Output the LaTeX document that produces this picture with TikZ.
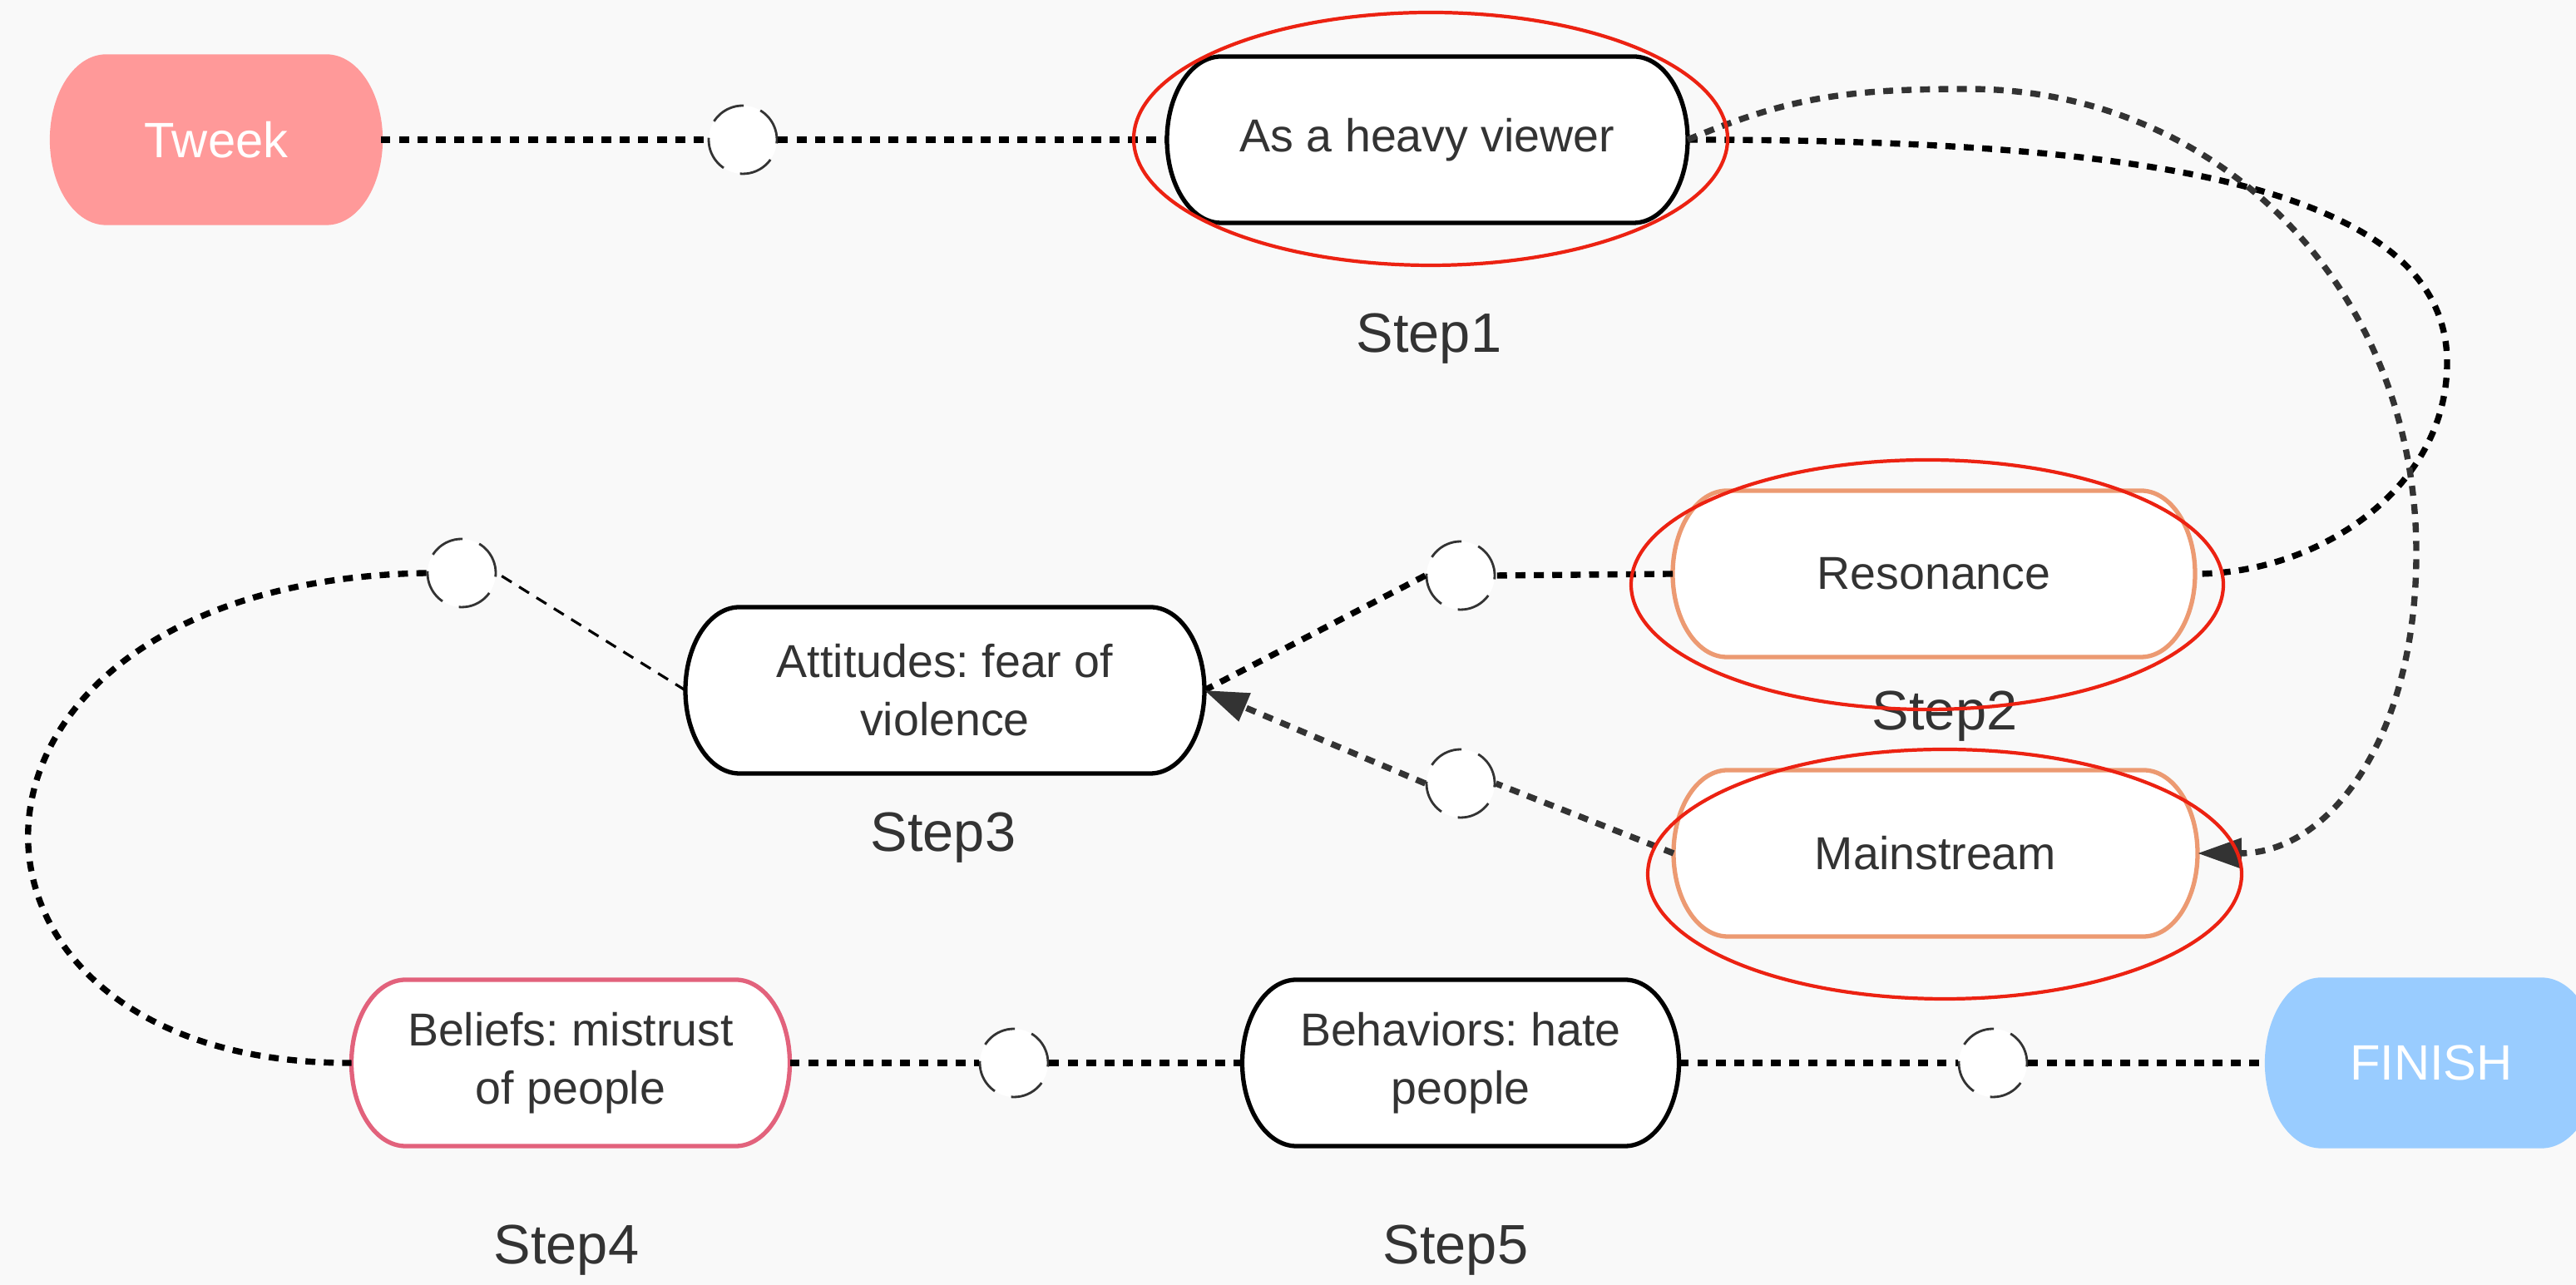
\documentclass[tikz,border=0pt]{standalone}
\usepackage{fontspec}
\setmainfont{Liberation Sans}
\usepackage{tikz}
\usetikzlibrary{positioning,arrows.meta}
\frenchspacing

\definecolor{bgcol}{HTML}{F9F9F9}
\definecolor{txtcol}{HTML}{333333}
\definecolor{tweekcol}{HTML}{FF9999}
\definecolor{finishcol}{HTML}{99CCFF}
\definecolor{orangecol}{HTML}{EC9A72}
\definecolor{pinkcol}{HTML}{E2627C}
\definecolor{markred}{RGB}{236,34,18}

\pgfdeclarelayer{bg}
\pgfsetlayers{bg,main}

\begin{document}
\begin{tikzpicture}[
  stage/.style={rectangle, outer sep=0pt, inner sep=2pt, text=txtcol, align=center,
    minimum height=2cm, font=\fontsize{15.8}{20}\selectfont},
  endpoint/.style={stage, text=white, font=\fontsize{17}{20}\selectfont},
  junction/.style={circle, minimum size=0.82cm, inner sep=0pt, fill=white, draw=txtcol,
    line width=0.8pt, dash pattern=on 12pt off 6pt},
  steplabel/.style={text=txtcol, font=\fontsize{19}{22}\selectfont},
  link/.style={line width=2.1pt, dash pattern=on 3.4pt off 2.9pt},
  faintlink/.style={line width=0.9pt, dash pattern=on 4pt off 3pt},
  hilite/.style={draw=markred, line width=1.2pt}
]
\useasboundingbox (0,0) rectangle (30.97,15.45);

% top row
\node[endpoint, minimum width=3.95cm] (tweek) at (2.60,13.77) {Tweek};
\node[junction] (j1) at (8.93,13.77) {};
\node[stage, minimum width=6.26cm] (viewer) at (17.16,13.77) {As a heavy viewer};
\node[steplabel] (s1) at (17.18,11.38) {Step1};

% middle
\node[stage, minimum width=6.28cm] (resonance) at (23.25,8.55) {Resonance};
\node[stage, minimum width=6.30cm] (mainstream) at (23.27,5.19) {Mainstream};
\node[steplabel] (s2) at (23.38,6.84) {Step2};
\node[junction] (j2) at (17.56,8.53) {};
\node[junction] (j3) at (17.56,6.03) {};
\node[stage, minimum width=6.24cm] (attitudes) at (11.36,7.15) {Attitudes: fear of\\violence};
\node[steplabel] (s3) at (11.34,5.38) {Step3};
\node[junction] (j4) at (5.55,8.56) {};

% bottom row
\node[stage, minimum width=5.27cm] (beliefs) at (6.86,2.67) {Beliefs: mistrust\\of people};
\node[junction] (j5) at (12.19,2.67) {};
\node[stage, minimum width=5.25cm] (behaviors) at (17.56,2.67) {Behaviors: hate\\people};
\node[junction] (j6) at (23.96,2.67) {};
\node[endpoint, minimum width=3.95cm] (finish) at (29.23,2.67) {FINISH};
\node[steplabel] (s4) at (6.81,0.42) {Step4};
\node[steplabel] (s5) at (17.50,0.42) {Step5};

% box outlines behind the texts
\begin{pgfonlayer}{bg}
\fill[bgcol] (0,0) rectangle (30.97,15.45);
\foreach \n/\c/\f in {tweek/tweekcol/tweekcol, viewer/black/white, resonance/orangecol/white,
    mainstream/orangecol/white, attitudes/black/white, beliefs/pinkcol/white,
    behaviors/black/white, finish/finishcol/finishcol}
  \filldraw[fill=\f, draw=\c, line width=1.5pt] ([xshift=0.65cm]\n.north west) -- ([xshift=-0.65cm]\n.north east)
    arc[start angle=90, end angle=-90, x radius=0.65cm, y radius=1cm]
    -- ([xshift=0.65cm]\n.south west)
    arc[start angle=270, end angle=90, x radius=0.65cm, y radius=1cm] -- cycle;
\end{pgfonlayer}

\coordinate (bendR) at (29.42,11.09);
\coordinate (bendM1) at (23.66,14.38);
\coordinate (bendM2) at (29.05,8.80);

% connectors
\draw[link] (tweek.east) -- (j1.west);
\draw[link] (j1.east) -- (viewer.west);
\draw[link] (viewer.east) .. controls +(5.2,0) and +(0,2.2) .. (bendR)
  .. controls +(0,-1.5) and +(1.5,0) .. (resonance.east);
\draw[link, draw=txtcol, -{Triangle[length=15pt,width=10pt]}] (viewer.east)
  .. controls +(1.2,0.5) and +(-1.5,0) .. (bendM1)
  .. controls +(3,0) and +(0,3.2) .. (bendM2)
  .. controls +(0,-2.2) and +(1.6,0) .. (mainstream.east);
\draw[link] (resonance.west) -- (j2.east);
\draw[link] (j2.west) -- (attitudes.east);
\draw[link, draw=txtcol] (mainstream.west) -- (j3.east);
\draw[link, draw=txtcol, -{Triangle[length=15pt,width=10pt]}] (j3.west) -- (attitudes.east);
\draw[faintlink] (attitudes.west) -- (j4.east);
\draw[link] (j4.west) .. controls (-1.10,8.45) and (-1.10,2.65) .. (beliefs.west);
\draw[link] (beliefs.east) -- (j5.west);
\draw[link] (j5.east) -- (behaviors.west);
\draw[link] (behaviors.east) -- (j6.west);
\draw[link] (j6.east) -- (finish.west);

% red marks
\draw[hilite] (17.20,13.78) ellipse (3.57 and 1.52);
\draw[hilite] (23.17,8.42) ellipse (3.56 and 1.50);
\draw[hilite] (23.38,4.94) ellipse (3.57 and 1.50);
\end{tikzpicture}
\end{document}
